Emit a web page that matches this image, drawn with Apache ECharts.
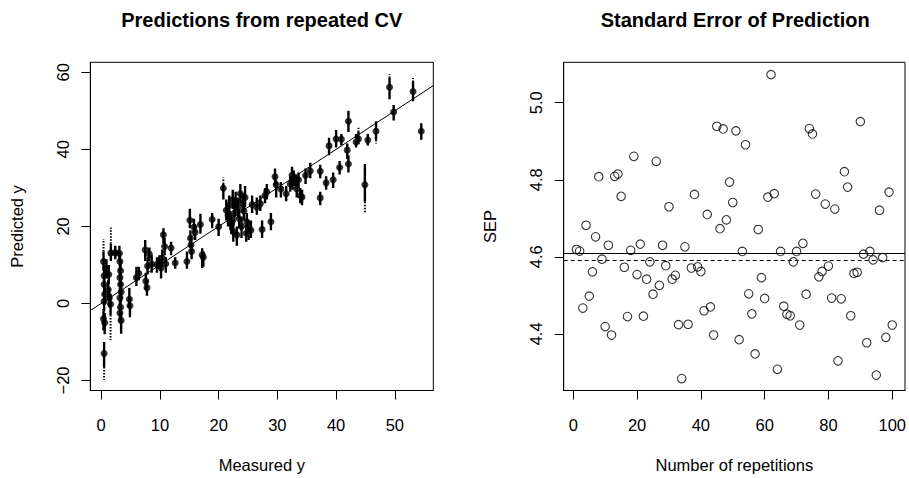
<!DOCTYPE html>
<html>
<head>
<meta charset="utf-8">
<script src="https://cdn.jsdelivr.net/npm/echarts@6/dist/echarts.min.js"></script>
<style>
html,body{margin:0;padding:0;background:#fff;}
#c{width:909px;height:478px;}
</style>
</head>
<body>
<div id="c"></div>
<script>
// ---------- Left panel: predictions from repeated CV ----------
const measuredY = [0.4,0.5,0.5,0.6,0.5,0.4,0.6,0.5,0.9,1.65,1.2,1.4,1.6,1.3,2.4,3.1,3.2,3.3,3.2,3.3,3.4,3.2,3.3,3.2,3.4,4.8,4.9,6.0,6.4,7.5,7.9,7.6,7.8,8.2,8.6,9.5,9.9,10.2,10.6,10.8,10.4,11.0,11.9,12.6,14.6,15.1,15.2,15.3,15.4,15.8,16.0,16.9,17.2,17.4,18.9,20.0,20.8,21.3,21.6,21.8,22.0,22.2,22.4,22.5,22.7,22.9,23.1,23.3,23.5,23.7,23.9,24.1,24.3,24.5,24.7,24.8,25.1,25.5,25.7,26.5,27.1,27.4,27.9,28.2,28.9,29.6,29.8,30.6,31.5,32.2,32.5,32.6,32.8,33.2,33.3,33.6,33.9,34.2,34.8,35.6,37.3,37.3,38.3,38.8,39.5,40.0,40.6,40.9,41.9,42.1,42.1,43.4,43.8,44.9,45.4,46.8,49.1,49.8,53.1,54.5];
const predMean = [10.9,7.2,4.9,2.4,0.5,-4.0,-5.0,-13.0,9.0,13.1,3.6,1.5,-0.2,7.5,13.2,13.0,10.9,8.5,6.7,4.9,3.0,1.5,-1.0,-2.5,-4.4,1.1,-0.6,6.7,7.8,13.9,9.7,5.8,4.1,12.8,10.2,10.1,10.8,9.2,17.8,14.8,11.8,10.3,14.4,10.5,10.9,21.6,16.9,15.2,13.5,19.8,18.5,20.5,12.6,12.0,21.8,19.9,29.9,24.2,22.9,25.5,21.6,20.8,27.0,18.6,23.5,26.5,17.8,25.0,22.0,28.5,20.0,26.0,24.0,27.5,18.2,21.2,19.0,19.0,25.7,25.0,25.9,19.2,28.0,29.0,21.2,32.9,30.8,29.7,28.5,31.0,33.3,31.5,32.7,31.8,29.7,32.1,28.0,27.6,33.2,34.4,34.3,27.4,31.3,40.9,32.1,42.7,35.3,42.6,39.8,47.3,36.2,41.9,42.7,30.8,42.4,44.7,56.1,49.7,55.0,44.7];
const predLow = [8.5,4.5,2.5,0,-2,-7,-8,-16.5,6.5,11,1,-1,-3,5,11.5,11,8.5,6,4.5,2.5,0.5,-1,-3.5,-5,-7.9,-1,-3.6,4.5,6,11,7.5,3.5,2,11,8,8,9,6.5,15.5,12.5,9.5,8,12.5,9,9,19.5,14.5,13,11.5,17.5,16.5,18.1,9.2,9.5,19.5,17.5,27,21.5,20,23,19,18,24.5,16,21,24,15,22.5,19.5,26,17,23.5,21.5,25,16,18.5,16.5,17,23.5,23,24,17,26,27,19,30.5,27.5,27.5,26.5,29,31,29.5,30.5,30,27.5,30,26,25.5,31,32.5,32.5,25.5,29.5,38.5,30,40.5,33.5,41,37.5,44.5,34,40.5,41.3,26.4,41,42.5,53,47.5,52.5,42.5];
const predHigh = [13.5,10,7.5,5,3,-1.5,-2.5,-10,11.5,15.5,6,4,2.5,10,15,15,13,11,9,7,5.5,4,1.5,0,-2,4,1.5,9.5,9.5,16.5,12,8,6,14.5,12.5,12,12.5,11,19.5,17,14,12,16,12,13.5,24.6,19,17.5,15.5,22,20.5,23.3,14.3,13.5,23.5,22,31,27,25.5,28,24,23,29.5,21,26,29,20,27.5,24.5,31,22.5,28.5,26.5,30.5,20.5,23.5,21.5,21.5,28,27.5,28,21.5,30,31,23.5,35,32,31.5,30.5,33,35.5,33.5,34.5,33.5,32,34,30,29.5,35,36.5,36,29,33,43,34,45,37,44,41.5,50,38.5,44,44.5,36.2,44,47.3,58.5,51.5,57.5,46.8];
// sparse extreme predictions (dotted tails)
const tailMeasured = [0.4, 0.5, 1.65, 1.6, 20.8, 43.8, 44.9, 46.8, 49.1, 53.1];
const tailFrom     = [13.5, -16.5, 15.5, -3, 31, 44.5, 26.4, 42.5, 58.5, 57.5];
const tailTo       = [16.7, -19.8, 19.7, -9.5, 32.7, 45.6, 23.3, 41.5, 59.5, 58.5];
const refIntercept = 0, refSlope = 1;
const leftXTicks = [0, 10, 20, 30, 40, 50];
const leftYTicks = [-20, 0, 20, 40, 60];

// ---------- Right panel: SEP per repetition ----------
const sepValues = [4.619,4.615,4.467,4.682,4.498,4.561,4.652,4.808,4.594,4.419,
4.630,4.397,4.809,4.815,4.757,4.573,4.445,4.617,4.861,4.554,
4.633,4.446,4.542,4.587,4.503,4.848,4.526,4.630,4.577,4.730,
4.542,4.552,4.424,4.284,4.626,4.425,4.571,4.762,4.574,4.562,
4.460,4.710,4.470,4.397,4.939,4.673,4.932,4.696,4.794,4.741,
4.927,4.385,4.614,4.891,4.504,4.452,4.348,4.671,4.546,4.492,
4.755,5.073,4.764,4.308,4.614,4.472,4.451,4.447,4.587,4.614,
4.423,4.635,4.503,4.933,4.919,4.763,4.548,4.562,4.737,4.576,
4.493,4.724,4.330,4.491,4.821,4.781,4.447,4.557,4.560,4.951,
4.607,4.377,4.614,4.592,4.293,4.721,4.598,4.391,4.768,4.423];
const sepDashedLevel = 4.587;
const rightXTicks = [0, 20, 40, 60, 80, 100];
const rightYTicks = [4.4, 4.6, 4.8, 5.0];

// ---------- layout ----------
const FONT = '"Liberation Sans", Arial, Helvetica, sans-serif';
const FS = 16.5;
const GL = {left: 90.3, top: 62.3, width: 343, height: 332};
const GR = {left: 563.7, top: 62.3, width: 343, height: 332};
const xRangeL = [-1.85, 56.55], yRangeL = [-22.6, 62.6];
const xRangeR = [-3.0, 104.0], yRangeR = [4.253, 5.105];

const sepMean = sepValues.reduce((a, b) => a + b, 0) / sepValues.length;

function axis(gridIndex, range, ticks, fmt, name, isY) {
  return {
    type: 'value', gridIndex, min: range[0], max: range[1],
    name, nameLocation: 'middle', nameGap: isY ? 65 : 65.5, nameRotate: isY ? 90 : 0,
    nameTextStyle: {color: '#000', fontSize: FS, fontFamily: FONT},
    axisLine: {show: true, onZero: false, lineStyle: {color: '#000', width: 1}},
    axisTick: {show: true, inside: false, length: 9, customValues: ticks, lineStyle: {color: '#000', width: 1}},
    axisLabel: {show: true, customValues: ticks, margin: isY ? 19.3 : 25.5, rotate: isY ? 90 : 0,
      color: '#000', fontSize: FS, fontFamily: FONT, formatter: fmt},
    splitLine: {show: false}
  };
}
const minusFmt = v => String(v).replace('-', '\u2212');

function segRender(width, dash) {
  return function (params, api) {
    const x = api.value(0);
    const a = api.coord([x, api.value(1)]);
    const b = api.coord([x, api.value(2)]);
    return {type: 'line', shape: {x1: a[0], y1: a[1], x2: b[0], y2: b[1]},
      style: {stroke: '#000', lineWidth: width, lineDash: dash || null}};
  };
}

const chart = echarts.init(document.getElementById('c'), null, {renderer: 'svg'});
chart.setOption({
  animation: false,
  backgroundColor: '#fff',
  grid: [
    Object.assign({show: true, borderColor: '#000', borderWidth: 1, backgroundColor: 'transparent'}, GL),
    Object.assign({show: true, borderColor: '#000', borderWidth: 1, backgroundColor: 'transparent'}, GR)
  ],
  xAxis: [
    axis(0, xRangeL, leftXTicks, minusFmt, 'Measured y', false),
    axis(1, xRangeR, rightXTicks, minusFmt, 'Number of repetitions', false)
  ],
  yAxis: [
    axis(0, yRangeL, leftYTicks, minusFmt, 'Predicted y', true),
    axis(1, yRangeR, rightYTicks, v => v.toFixed(1), 'SEP', true)
  ],
  graphic: [
    {type: 'text', x: GL.left + GL.width / 2, y: 20,
      style: {text: 'Predictions from repeated CV', fill: '#000', fontSize: 20, fontWeight: 'bold', fontFamily: FONT, align: 'center', verticalAlign: 'middle'}},
    {type: 'text', x: GR.left + GR.width / 2, y: 20,
      style: {text: 'Standard Error of Prediction', fill: '#000', fontSize: 20, fontWeight: 'bold', fontFamily: FONT, align: 'center', verticalAlign: 'middle'}}
  ],
  series: [
    {type: 'line', xAxisIndex: 0, yAxisIndex: 0, silent: true, showSymbol: false, clip: true,
      data: xRangeL.map(x => [x, refIntercept + refSlope * x]),
      lineStyle: {color: '#000', width: 1}},
    {type: 'custom', xAxisIndex: 0, yAxisIndex: 0, silent: true, clip: true,
      data: tailMeasured.map((x, i) => [x, tailFrom[i], tailTo[i]]),
      encode: {x: 0, y: [1, 2]}, renderItem: segRender(2, [1.5, 1.5])},
    {type: 'custom', xAxisIndex: 0, yAxisIndex: 0, silent: true, clip: true,
      data: measuredY.map((x, i) => [x, predLow[i], predHigh[i]]),
      encode: {x: 0, y: [1, 2]}, renderItem: segRender(2.4)},
    {type: 'scatter', xAxisIndex: 0, yAxisIndex: 0, silent: true, clip: true,
      data: measuredY.map((x, i) => [x, predMean[i]]),
      symbol: 'circle', symbolSize: 7, itemStyle: {color: '#000'}},
    {type: 'scatter', xAxisIndex: 1, yAxisIndex: 1, silent: true, clip: true,
      data: sepValues.map((v, i) => [i + 1, v]),
      symbol: 'circle', symbolSize: 8.5,
      itemStyle: {color: 'rgba(255,255,255,0)', borderColor: '#000', borderWidth: 1.1},
      markLine: {silent: true, symbol: ['none', 'none'], label: {show: false},
        data: [
          {yAxis: sepMean, lineStyle: {color: '#000', width: 1, type: 'solid'}},
          {yAxis: sepDashedLevel, lineStyle: {color: '#000', width: 1, type: [4, 3]}}
        ]}}
  ]
});
</script>
</body>
</html>
